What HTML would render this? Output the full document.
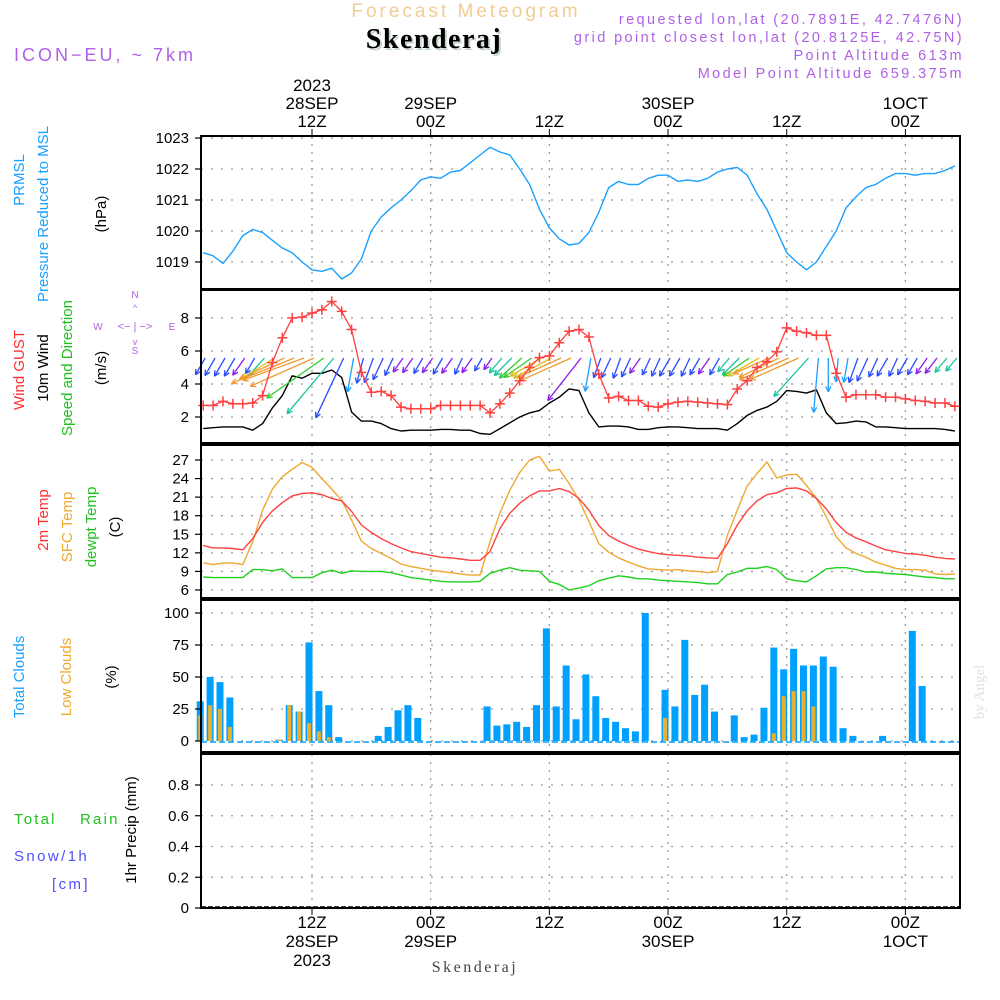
<!DOCTYPE html>
<html><head><meta charset="utf-8"><style>
html,body{margin:0;padding:0;background:#fff;width:1000px;height:1000px;overflow:hidden}
svg{display:block}
text{font-family:"Liberation Sans",sans-serif}
</style></head><body>
<svg id="chart" width="1000" height="1000" viewBox="0 0 1000 1000" xmlns="http://www.w3.org/2000/svg">
<g id="header">
<text x="466" y="17" font-size="19" fill="#f2cc94" text-anchor="middle" letter-spacing="3">Forecast Meteogram</text>
<text x="436" y="50" font-size="28" font-weight="bold" fill="#c8d8c8" text-anchor="middle" letter-spacing="1.5" style="font-family:'Liberation Serif',serif">Skenderaj</text>
<text x="434" y="48" font-size="28" font-weight="bold" fill="#000" text-anchor="middle" letter-spacing="1.5" style="font-family:'Liberation Serif',serif">Skenderaj</text>
<text x="14" y="61" font-size="18" fill="#b060e8" letter-spacing="3">ICON−EU, ~ 7km</text>
<text x="964" y="24" font-size="14.5" fill="#b060e8" text-anchor="end" letter-spacing="2.4">requested lon,lat (20.7891E, 42.7476N)</text>
<text x="964" y="42" font-size="14.5" fill="#b060e8" text-anchor="end" letter-spacing="2.4">grid point closest lon,lat (20.8125E, 42.75N)</text>
<text x="964" y="60" font-size="14.5" fill="#b060e8" text-anchor="end" letter-spacing="2.4">Point Altitude 613m</text>
<text x="964" y="78" font-size="14.5" fill="#b060e8" text-anchor="end" letter-spacing="2.4">Model Point Altitude 659.375m</text>
</g>
<g id="grids"></g>
<g id="marks"></g>
<g id="frames"></g>
<g id="labels" font-size="15"></g>
<g id="titles">
<text transform="translate(24,180) rotate(-90)" font-size="15" fill="#1aa0ff" text-anchor="middle">PRMSL</text>
<text transform="translate(48,214) rotate(-90)" font-size="15" fill="#1aa0ff" text-anchor="middle">Pressure Reduced to MSL</text>
<text transform="translate(106,214) rotate(-90)" font-size="15" fill="#000" text-anchor="middle">(hPa)</text>
<text transform="translate(24,370) rotate(-90)" font-size="15" fill="#ff3030" text-anchor="middle">Wind GUST</text>
<text transform="translate(48,368) rotate(-90)" font-size="15" fill="#000" text-anchor="middle">10m Wind</text>
<text transform="translate(72,368) rotate(-90)" font-size="15" fill="#20c020" text-anchor="middle">Speed and Direction</text>
<text transform="translate(106,368) rotate(-90)" font-size="15" fill="#000" text-anchor="middle">(m/s)</text>
<g fill="#b060e8" font-size="10" text-anchor="middle">
<text x="135" y="298">N</text><text x="135" y="354">S</text><text x="98" y="330">W</text><text x="172" y="330">E</text>
<text x="135" y="330" font-size="11">&lt;− | −&gt;</text>
<text x="135" y="311" font-size="9">^</text><text x="135" y="345" font-size="9">v</text>
</g>
<text transform="translate(48,520) rotate(-90)" font-size="15" fill="#ff3030" text-anchor="middle">2m Temp</text>
<text transform="translate(72,527) rotate(-90)" font-size="15" fill="#f0a830" text-anchor="middle">SFC Temp</text>
<text transform="translate(96,527) rotate(-90)" font-size="15" fill="#20c020" text-anchor="middle">dewpt Temp</text>
<text transform="translate(120,527) rotate(-90)" font-size="15" fill="#000" text-anchor="middle">(C)</text>
<text transform="translate(24,677) rotate(-90)" font-size="15" fill="#1aa0ff" text-anchor="middle">Total Clouds</text>
<text transform="translate(71,677) rotate(-90)" font-size="15" fill="#f0a830" text-anchor="middle">Low Clouds</text>
<text transform="translate(116,677) rotate(-90)" font-size="15" fill="#000" text-anchor="middle">(%)</text>
<text x="14" y="824" font-size="15" fill="#20c020" letter-spacing="2.2">Total</text>
<text x="80" y="824" font-size="15" fill="#20c020" letter-spacing="2.2">Rain</text>
<text x="14" y="861" font-size="15" fill="#5050ff" letter-spacing="2.4">Snow/1h</text>
<text x="52" y="889" font-size="15" fill="#5050ff" letter-spacing="2.4">[cm]</text>
<text transform="translate(136,830) rotate(-90)" font-size="15" fill="#000" text-anchor="middle">1hr Precip (mm)</text>
<text x="475" y="972" font-size="16" fill="#444" text-anchor="middle" style="font-family:'Liberation Serif',serif" letter-spacing="2.5">Skenderaj</text>
<text transform="translate(984,692) rotate(-90)" font-size="15" fill="#dde4dd" text-anchor="middle" style="font-family:'Liberation Serif',serif">by Angel</text>
</g>
</svg>
<script>
const hours=[];for(let i=1;i<=77;i++)hours.push(i);
const pressure=[1019.3,1019.2,1018.95,1019.35,1019.85,1020.05,1019.95,1019.7,1019.45,1019.3,1019.0,1018.75,1018.7,1018.8,1018.45,1018.65,1019.1,1020.0,1020.45,1020.75,1021.0,1021.3,1021.65,1021.75,1021.7,1021.9,1021.95,1022.2,1022.45,1022.7,1022.55,1022.45,1022.0,1021.5,1020.7,1020.1,1019.75,1019.55,1019.6,1019.95,1020.6,1021.4,1021.6,1021.5,1021.5,1021.7,1021.8,1021.8,1021.6,1021.65,1021.6,1021.7,1021.9,1022.0,1022.05,1021.8,1021.2,1020.7,1020.0,1019.3,1019.0,1018.75,1019.0,1019.5,1020.0,1020.75,1021.1,1021.4,1021.5,1021.7,1021.85,1021.85,1021.8,1021.85,1021.85,1021.95,1022.1];
const gust=[2.7,2.7,2.95,2.8,2.8,2.85,3.3,5.3,6.8,8.0,8.05,8.3,8.5,9.0,8.4,7.3,4.7,3.5,3.55,3.3,2.6,2.5,2.5,2.5,2.7,2.7,2.7,2.7,2.7,2.25,2.8,3.45,4.2,5.0,5.6,5.7,6.5,7.2,7.3,6.85,4.6,3.15,3.25,3.0,3.0,2.65,2.6,2.8,2.9,2.95,2.9,2.85,2.8,2.75,3.7,4.2,5.0,5.35,5.95,7.4,7.2,7.1,6.95,6.95,4.65,3.2,3.35,3.35,3.35,3.2,3.2,3.1,3.0,2.95,2.85,2.85,2.65];
const wind=[1.3,1.35,1.4,1.4,1.4,1.2,1.6,2.55,3.3,4.5,4.35,4.65,4.65,4.85,4.4,2.3,1.75,1.75,1.6,1.3,1.15,1.2,1.2,1.2,1.25,1.25,1.2,1.2,1.0,0.95,1.3,1.65,2.0,2.25,2.4,2.85,3.2,3.7,3.6,2.25,1.4,1.45,1.45,1.4,1.25,1.25,1.35,1.4,1.4,1.35,1.3,1.3,1.3,1.2,1.6,2.1,2.4,2.6,2.95,3.6,3.55,3.45,3.65,2.25,1.6,1.65,1.75,1.7,1.4,1.4,1.35,1.3,1.3,1.3,1.3,1.25,1.15];
const windDir=[210,210,210,210,215,210,222,238,245,248,250,246,235,220,205,190,195,200,205,205,215,215,210,215,210,215,205,215,210,215,220,225,228,235,240,242,246,246,218,190,200,205,200,205,215,205,205,210,210,205,210,215,210,220,225,235,240,246,244,246,246,222,185,180,185,190,200,205,205,210,205,210,210,215,218,220,220];
const temp2m=[13.2,12.8,12.8,12.7,12.5,14.3,16.9,18.8,20.1,21.2,21.6,21.7,21.4,20.8,20.4,18.7,16.5,15.3,14.3,13.5,12.8,12.2,11.9,11.6,11.3,11.2,11.0,10.8,10.8,12.2,15.9,18.4,20.0,21.2,22.0,22.0,22.4,21.9,20.8,18.9,16.4,14.8,13.9,13.2,12.6,12.2,11.9,11.7,11.6,11.5,11.3,11.2,11.1,13.5,16.5,18.8,20.4,21.4,21.7,22.4,22.5,22.0,20.8,19.1,16.9,15.3,14.4,13.8,13.1,12.5,12.2,11.9,11.8,11.6,11.3,11.1,11.0];
const tempSfc=[10.4,10.1,10.35,10.35,10.1,13.8,18.9,22.3,24.3,25.5,26.6,25.8,24.0,22.3,20.5,17.3,13.9,12.7,11.9,11.1,10.2,9.8,9.5,9.2,9.0,8.8,8.6,8.4,8.4,13.8,18.4,22.1,25.0,27.0,27.6,25.2,25.5,23.2,20.5,17.1,13.5,12.1,11.2,10.5,9.9,9.4,9.3,9.2,9.3,9.1,9.0,8.8,9.0,14.8,18.9,22.8,24.8,26.7,24.1,24.6,24.7,22.9,20.8,17.8,14.6,12.8,11.9,11.3,10.5,10.0,9.5,9.3,9.3,9.2,8.6,8.5,8.6];
const dewpoint=[8.1,8.0,8.0,8.0,8.0,9.3,9.3,9.1,9.4,8.0,8.0,8.0,8.8,9.2,8.7,9.1,9.0,9.0,9.0,8.8,8.4,8.0,7.8,7.6,7.4,7.3,7.3,7.3,7.4,8.7,9.2,9.6,9.2,9.1,9.0,7.4,6.9,6.0,6.3,6.7,7.5,7.9,8.3,8.1,7.8,7.8,7.6,7.5,7.4,7.3,7.2,7.0,7.0,8.5,8.9,9.5,9.5,9.8,9.3,7.8,7.5,7.3,8.3,9.4,9.6,9.6,9.3,8.9,8.9,8.7,8.6,8.5,8.3,8.1,8.0,7.8,7.8];
const totalClouds=[31,50,46,34,0,0,0,0,1,28,23,77,39,28,3,0,0,0,4,11,24,28,18,0,0,0,0,0,0,27,12,13,15,11,28,88,27,59,17,52,35,18,15,10,7.5,100,0,40,27,79,36,44,23,0,20,3,5,26,73,56,72,59,59,66,58,10,4,0,0,4,0,0,86,43,0,0,0];
const lowClouds=[20,28,25,11,0,0,0,0,1,28,23,14,7.5,3,0,0,0,0,0,0,0,0,0,0,0,0,0,0,0,0,0,0,0,0,0,0,0,0,0,0,0,0,0,0,0,0,0,18,0,0,0,0,0,0,0,0,0,0,6,35,39,39,27,0,0,0,0,0,0,0,0,0,0,0,0,0,0];
const pressTicks=[1019,1020,1021,1022,1023];
const windTicks=[2,4,6,8];
const tempTicks=[6,9,12,15,18,21,24,27];
const cloudTicks=[0,25,50,75,100];
const precipTicks=[0,0.2,0.4,0.6,0.8];
const precipTickLabels=["0","0.2","0.4","0.6","0.8"];
const timeTicks=[12,24,36,48,60,72];
const topTimeLabels=[["2023","28SEP","12Z"],["29SEP","00Z"],["12Z"],["30SEP","00Z"],["12Z"],["1OCT","00Z"]];
const bottomTimeLabels=[["12Z","28SEP","2023"],["00Z","29SEP"],["12Z"],["00Z","30SEP"],["12Z"],["00Z","1OCT"]];

const NS="http://www.w3.org/2000/svg";
const X0=201,X1=960;
const xS=t=>312+(t-12)*9.89;
const yP=v=>138+(1023-v)*31;
const yW=v=>318+(8-v)*16.5;
const yT=v=>460+(27-v)*6.19;
const yC=v=>741-v*1.28;
const yR=v=>908-v*153.75;
const panels=[[136,289],[290,443],[445,598],[600,752],[754,908]];
function mk(tag,attrs,parent){const e=document.createElementNS(NS,tag);for(const k in attrs)e.setAttribute(k,attrs[k]);parent.appendChild(e);return e;}
const G=document.getElementById('grids'),M=document.getElementById('marks'),F=document.getElementById('frames'),L=document.getElementById('labels');

panels.forEach((p,pi)=>{timeTicks.forEach(t=>{const l=mk('line',{x1:xS(t),x2:xS(t),y1:p[0],y2:p[1],stroke:'#999','stroke-width':1.3,'stroke-dasharray':'2,6'},G);

});});
function hgrid(ticks,yf,labels,pname){ticks.forEach((v,i)=>{const y=yf(v);
const l=mk('line',{x1:X0,x2:X1,y1:y,y2:y,stroke:'#999','stroke-width':1.3,'stroke-dasharray':'2,8'},G);


mk('line',{x1:X0-6,x2:X0,y1:y,y2:y,stroke:'#000','stroke-width':1.2},F);
const tx=mk('text',{x:X0-12,y:y+5,'text-anchor':'end',fill:'#000'},L);tx.textContent=labels?labels[i]:String(v);

});}
hgrid(pressTicks,yP,null,'pressure');
hgrid(windTicks,yW,null,'wind');
hgrid(tempTicks,yT,null,'temp');
hgrid(cloudTicks,yC,null,'cloud');
hgrid(precipTicks,yR,precipTickLabels,'precip');

function line(arr,xf,yf,color,w,name){const pts=arr.map((v,i)=>xf(hours[i]).toFixed(1)+','+yf(v).toFixed(1)).join(' ');
const p=mk('polyline',{points:pts,fill:'none',stroke:color,'stroke-width':w,'stroke-linejoin':'round'},M);

return p;}
line(pressure,xS,yP,'#1aa0ff',1.4,'pressure-line');
totalClouds.forEach((v,i)=>{const x=xS(hours[i])-3;if(v<=0)return;
const r=mk('rect',{x:x-3.5,y:yC(v),width:7,height:yC(0)-yC(v),fill:'#00a0ff'},M);

});
lowClouds.forEach((v,i)=>{const x=xS(hours[i])-3;if(v<=0)return;
const r=mk('rect',{x:x-2,y:yC(v),width:4,height:yC(0)-yC(v),fill:'#e8b030'},M);

});
{const b=mk('line',{x1:X0,x2:X1,y1:yC(0)+1,y2:yC(0)+1,stroke:'#00a0ff','stroke-width':1.5,'stroke-dasharray':'6,3'},M);

}
{const b=mk('line',{x1:X0,x2:X1,y1:yR(0)-1,y2:yR(0)-1,stroke:'#000','stroke-width':1.5,'stroke-dasharray':'5,2'},M);

}
line(tempSfc,xS,yT,'#f0a830',1.4,'sfc-temp-line');
line(temp2m,xS,yT,'#ff4040',1.4,'temp-2m-line');
line(dewpoint,xS,yT,'#20d020',1.4,'dewpoint-line');
line(wind,xS,yW,'#000',1.4,'wind-speed-line');
function dirColor(h){if(h<195)return'#1aa0ff';if(h<212)return'#2a4cff';if(h<219)return'#8a1ee8';if(h<227)return'#19c4a0';if(h<237)return'#30cc30';if(h<243)return'#e0c020';return'#f09a30';}
windDir.forEach((h,i)=>{const x=xS(hours[i])+2,y=358,L2=wind[i]*15;const a=h*Math.PI/180;
const x2=x+L2*Math.sin(a),y2=y-L2*Math.cos(a);const c=dirColor(h);
const g=mk('g',{stroke:c,'stroke-width':1.3,fill:'none'},M);


mk('line',{x1:x,y1:y,x2:x2,y2:y2},g);
const ux=(x-x2)/L2,uy=(y-y2)/L2,s=6;
const c1=Math.cos(0.45),s1=Math.sin(0.45);
mk('line',{x1:x2,y1:y2,x2:x2+s*(ux*c1-uy*s1),y2:y2+s*(ux*s1+uy*c1)},g);
mk('line',{x1:x2,y1:y2,x2:x2+s*(ux*c1+uy*s1),y2:y2+s*(-ux*s1+uy*c1)},g);});
line(gust,xS,yW,'#ff4040',1.3,'gust-line');
gust.forEach((v,i)=>{const x=xS(hours[i]),y=yW(v);
const g=mk('g',{stroke:'#ff4040','stroke-width':1.5},M);


mk('line',{x1:x-5,x2:x+5,y1:y,y2:y},g);mk('line',{x1:x,x2:x,y1:y-5,y2:y+5},g);});
panels.forEach((p,i)=>{const r=mk('rect',{x:X0,y:p[0],width:X1-X0,height:p[1]-p[0],fill:'none',stroke:'#000','stroke-width':2},F);

});
timeTicks.forEach((t,i)=>{const x=xS(t);
mk('line',{x1:x,x2:x,y1:129,y2:136,stroke:'#000','stroke-width':1},F);
mk('line',{x1:x,x2:x,y1:908,y2:915,stroke:'#000','stroke-width':1},F);
const top=topTimeLabels[i];top.forEach((s,j)=>{const tx=mk('text',{x:x,y:127-(top.length-1-j)*18,'text-anchor':'middle','font-size':17,fill:'#000'},L);tx.textContent=s;

});
bottomTimeLabels[i].forEach((s,j)=>{const tx=mk('text',{x:x,y:928+j*19,'text-anchor':'middle','font-size':17,fill:'#000'},L);tx.textContent=s;

});});
</script>
</body></html>
